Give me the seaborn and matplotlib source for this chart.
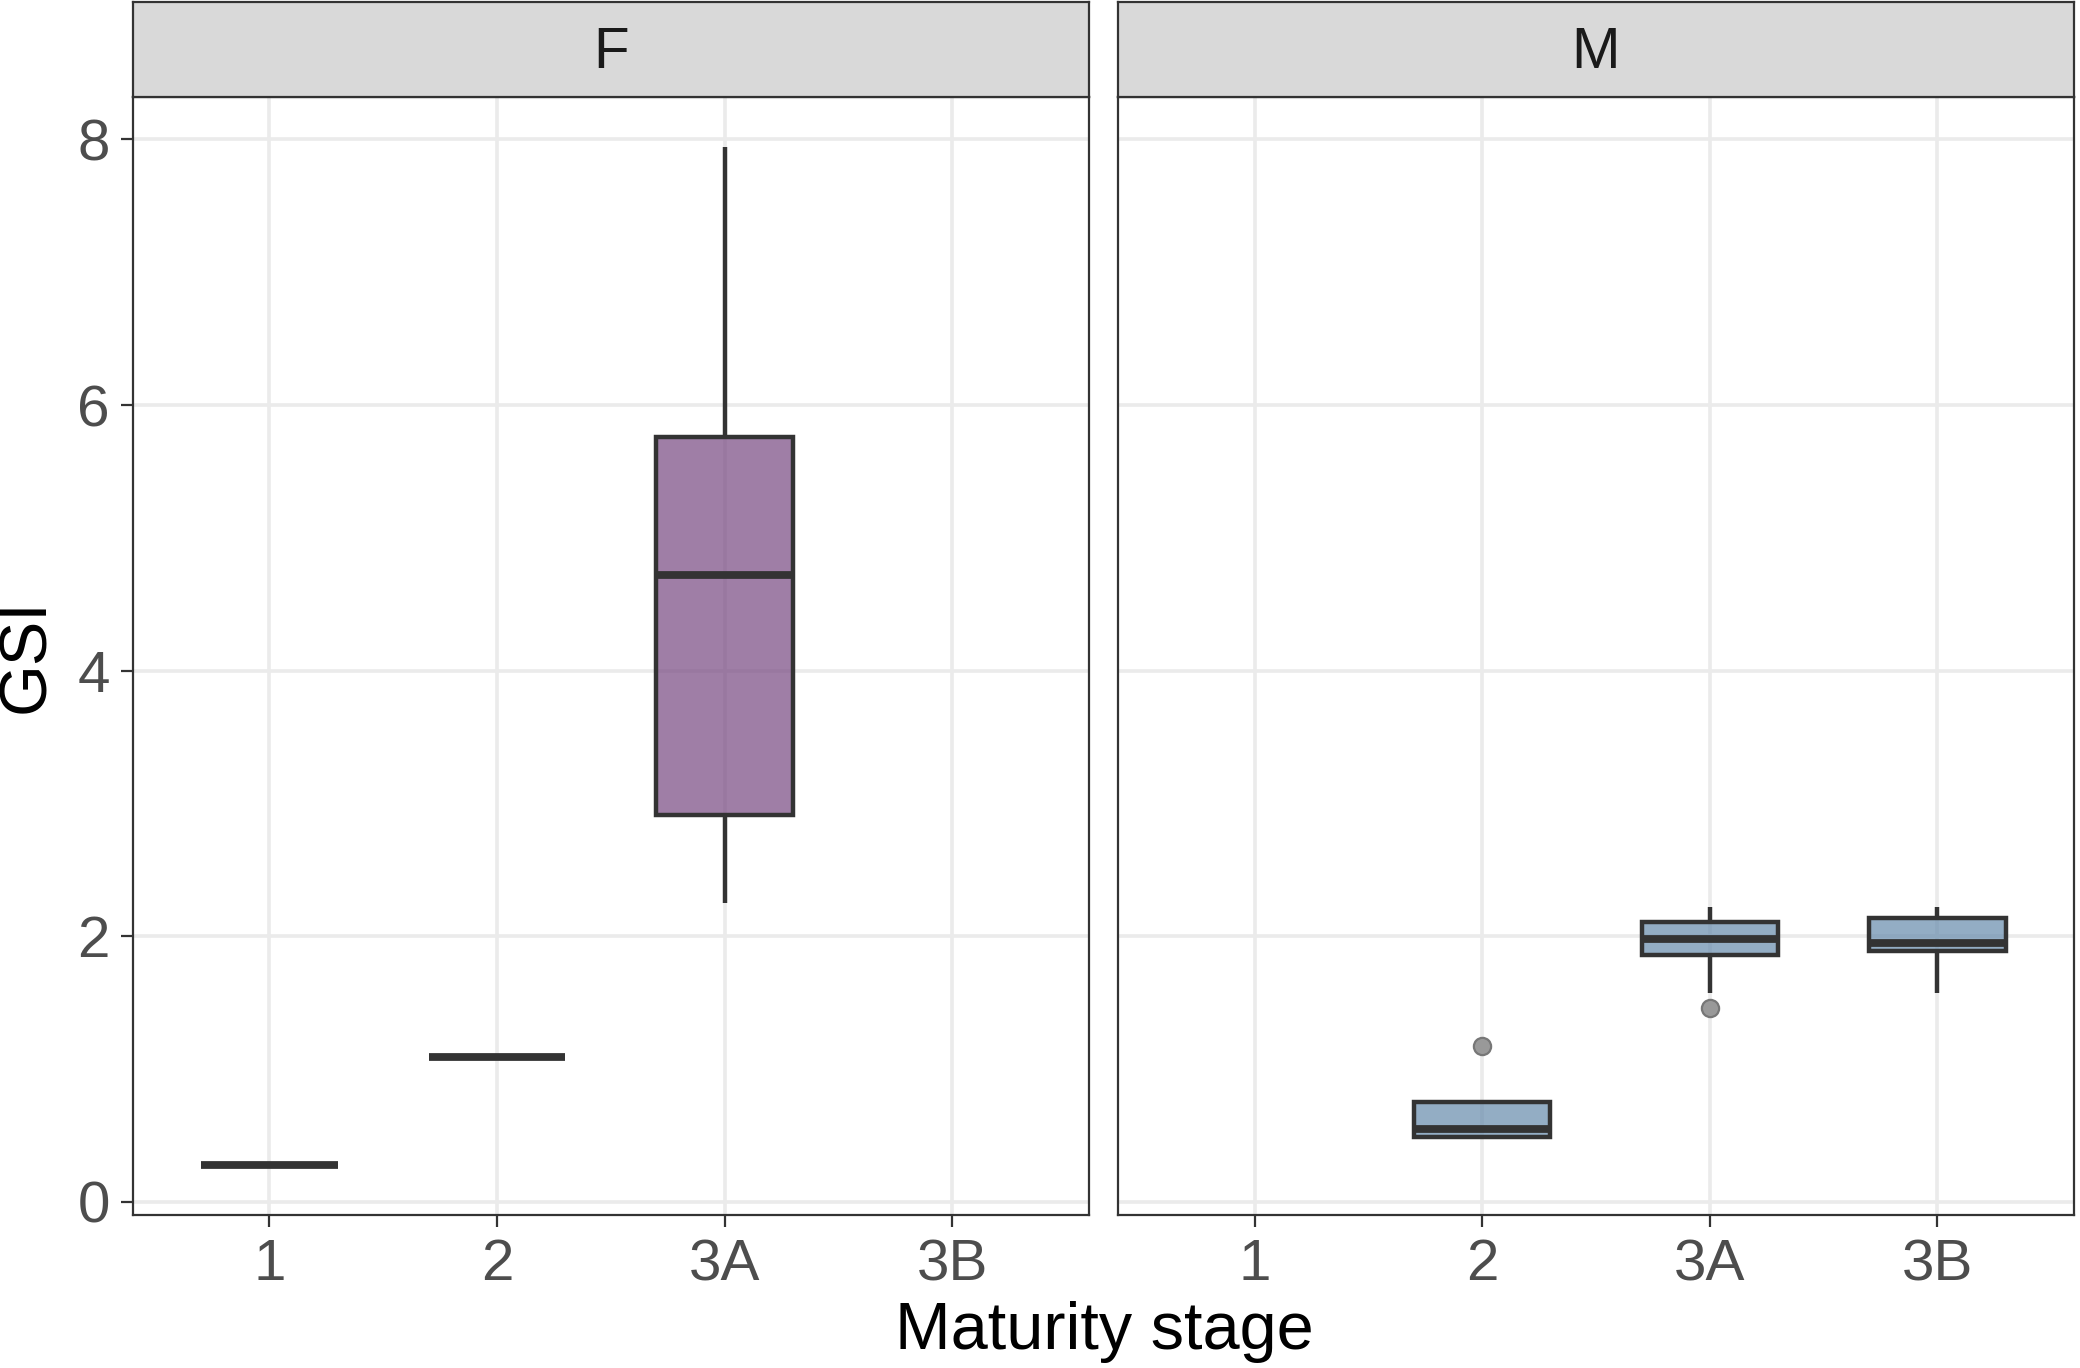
#!/usr/bin/env python3
"""
GSI by maturity stage, faceted by sex (ggplot theme_bw look)
"""

import pandas as pd
import matplotlib
matplotlib.use('Agg')  # Use non-interactive backend
import matplotlib.pyplot as plt
from matplotlib.colors import to_rgba
import seaborn as sns

stages = ['1', '2', '3A', '3B']
sexes = ['F', 'M']

gsi_F_1 = [0.28]
gsi_F_2 = [1.09]
gsi_F_3A = [2.25, 2.91, 4.72, 5.76, 7.94]
gsi_M_2 = [0.47, 0.49, 0.55, 0.75, 1.17]
gsi_M_3A = [1.46, 1.57, 1.86, 1.92, 1.98, 2.05, 2.11, 2.16, 2.22]
gsi_M_3B = [1.57, 1.89, 1.95, 2.14, 2.22]

groups = {
    ('F', '1'): gsi_F_1,
    ('F', '2'): gsi_F_2,
    ('F', '3A'): gsi_F_3A,
    ('M', '2'): gsi_M_2,
    ('M', '3A'): gsi_M_3A,
    ('M', '3B'): gsi_M_3B,
}

fill_colors = {'F': '#774781', 'M': '#658AAB'}

rows = []
for (sex, stage), values in groups.items():
    for v in values:
        rows.append({'sex': sex, 'stage': stage, 'GSI': v})
df = pd.DataFrame(rows)

sns.set_theme(style='whitegrid')
plt.rcParams['font.family'] = ['Liberation Sans', 'DejaVu Sans']

fig = plt.figure(figsize=(10.4, 6.84), dpi=200)

panel_w = 0.4596
panel_left = {'F': 0.0639, 'M': 0.5375}
panel_bottom, panel_h = 0.1118, 0.8173
strip_bottom, strip_h = 0.9291, 0.0694

edge = '#333333'

for sex in sexes:
    ax = fig.add_axes([panel_left[sex], panel_bottom, panel_w, panel_h])
    sub = df[df['sex'] == sex]
    sns.boxplot(
        data=sub, x='stage', y='GSI', order=stages,
        color=fill_colors[sex], saturation=1, linecolor=edge,
        linewidth=1.6, width=0.6, showcaps=False,
        medianprops={'linewidth': 2.8},
        flierprops={'marker': 'o', 'markerfacecolor': '#999999',
                    'markeredgecolor': '#777777', 'markersize': 6.2,
                    'markeredgewidth': 0.8},
        ax=ax,
    )
    for p in ax.patches:
        p.set_facecolor(to_rgba(fill_colors[sex], 0.7))

    ax.set_axisbelow(True)
    ax.set_facecolor('white')
    ax.set_xlim(-0.6, 3.6)
    ax.set_ylim(-0.1, 8.32)
    ax.set_yticks([0, 2, 4, 6, 8])
    ax.grid(True, color='#EBEBEB', linewidth=1.3)
    ax.set_xlabel('')
    ax.set_ylabel('')
    for s in ax.spines.values():
        s.set_color(edge)
        s.set_linewidth(0.8)
    ax.tick_params(axis='both', length=4.3, width=0.8, color=edge,
                   labelsize=21, labelcolor='#4D4D4D', pad=4,
                   bottom=True, left=True)
    if sex == 'M':
        ax.tick_params(axis='y', left=False, labelleft=False)

    # facet strip
    sax = fig.add_axes([panel_left[sex], strip_bottom, panel_w, strip_h])
    sax.set_facecolor('#D9D9D9')
    sax.set_xticks([])
    sax.set_yticks([])
    sax.grid(False)
    for s in sax.spines.values():
        s.set_color(edge)
        s.set_linewidth(0.8)
    sax.text(0.5, 0.46, sex, ha='center', va='center', fontsize=21,
             color='#1A1A1A', transform=sax.transAxes)

fig.text(0.531, 0.0263, 'Maturity stage', ha='center', va='center',
         fontsize=24, color='black')
fig.text(0.013, 0.5205, 'GSI', ha='center', va='center', rotation=90,
         fontsize=24, color='black')

fig.savefig('out.png', dpi=200)
plt.close(fig)
